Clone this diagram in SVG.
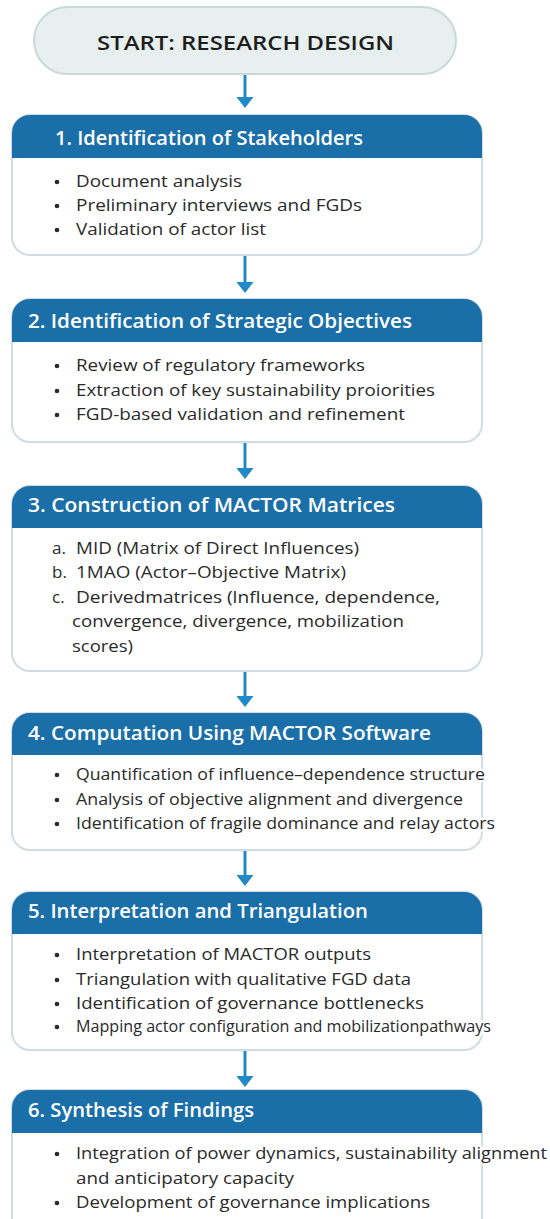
<svg xmlns="http://www.w3.org/2000/svg" width="550" height="1219" viewBox="0 0 550 1219">
<defs>
<style>
.box{fill:#ffffff;stroke:#cfdce4;stroke-width:2}
.hdr{fill:#1b6fa8}
.ttl{font-family:"Open Sans","Liberation Sans",sans-serif;font-size:20px;font-weight:600;fill:#ffffff}
.txt{font-family:"Open Sans","Liberation Sans",sans-serif;font-size:17px;fill:#2a2a2a}
.halo{stroke:#ffffff;stroke-width:5;paint-order:stroke;stroke-linejoin:round}
.bul{fill:#2a2a2a}
.arrow{stroke:#1f8ac7;stroke-width:3;fill:none}
.start{fill:#e7f0ee;stroke:#c9d9d6;stroke-width:2}
.stxt{font-family:"Open Sans","Liberation Sans",sans-serif;font-size:20px;font-weight:600;fill:#1e1e1e}
</style>
<marker id="ah" markerUnits="userSpaceOnUse" markerWidth="11" markerHeight="17" refX="2" refY="8.5" orient="auto">
<path d="M0,0 L11,8.5 L0,17 z" fill="#1f8ac7"/>
</marker>
</defs>
<rect width="550" height="1219" fill="#ffffff"/>

<g id="connectors">
<line class="arrow" x1="245" y1="75" x2="245" y2="99" marker-end="url(#ah)"/>
<line class="arrow" x1="245" y1="256" x2="245" y2="284" marker-end="url(#ah)"/>
<line class="arrow" x1="245" y1="443" x2="245" y2="470" marker-end="url(#ah)"/>
<line class="arrow" x1="245" y1="672" x2="245" y2="698" marker-end="url(#ah)"/>
<line class="arrow" x1="245" y1="851" x2="245" y2="877" marker-end="url(#ah)"/>
<line class="arrow" x1="245" y1="1051" x2="245" y2="1078" marker-end="url(#ah)"/>
</g>

<g id="start">
<rect class="start" x="34" y="7" width="422" height="67" rx="33.5"/>
<text class="stxt" x="97" y="50" textLength="297" lengthAdjust="spacingAndGlyphs">START: RESEARCH DESIGN</text>
</g>

<g id="step1">
<rect class="box" x="12" y="115" width="470" height="140" rx="18"/>
<path class="hdr" d="M12,133 a18,18 0 0 1 18,-18 h434 a18,18 0 0 1 18,18 v25 h-470 z"/>
<text class="ttl" x="55" y="145" textLength="308" lengthAdjust="spacingAndGlyphs">1. Identification of Stakeholders</text>
<circle class="bul" cx="57" cy="182" r="2.3"/>
<circle class="bul" cx="57" cy="206" r="2.3"/>
<circle class="bul" cx="57" cy="230" r="2.3"/>
<text class="txt" x="76" y="187" textLength="166" lengthAdjust="spacingAndGlyphs">Document analysis</text>
<text class="txt" x="76" y="211" textLength="286" lengthAdjust="spacingAndGlyphs">Preliminary interviews and FGDs</text>
<text class="txt" x="76" y="235" textLength="190" lengthAdjust="spacingAndGlyphs">Validation of actor list</text>
</g>

<g id="step2">
<rect class="box" x="12" y="299" width="470" height="143" rx="18"/>
<path class="hdr" d="M12,317 a18,18 0 0 1 18,-18 h434 a18,18 0 0 1 18,18 v25 h-470 z"/>
<text class="ttl" x="28" y="328" textLength="384" lengthAdjust="spacingAndGlyphs">2. Identification of Strategic Objectives</text>
<circle class="bul" cx="57" cy="366" r="2.3"/>
<circle class="bul" cx="57" cy="391" r="2.3"/>
<circle class="bul" cx="57" cy="415" r="2.3"/>
<text class="txt" x="76" y="371" textLength="289" lengthAdjust="spacingAndGlyphs">Review of regulatory frameworks</text>
<text class="txt" x="76" y="396" textLength="359" lengthAdjust="spacingAndGlyphs">Extraction of key sustainability proiorities</text>
<text class="txt" x="76" y="420" textLength="329" lengthAdjust="spacingAndGlyphs">FGD-based validation and refinement</text>
</g>

<g id="step3">
<rect class="box" x="12" y="486" width="470" height="185" rx="18"/>
<path class="hdr" d="M12,504 a18,18 0 0 1 18,-18 h434 a18,18 0 0 1 18,18 v24 h-470 z"/>
<text class="ttl" x="28" y="512" textLength="367" lengthAdjust="spacingAndGlyphs">3. Construction of MACTOR Matrices</text>
<text class="txt" x="52" y="554">a.</text>
<text class="txt" x="52" y="578">b.</text>
<text class="txt" x="52" y="603">c.</text>
<text class="txt" x="76" y="554" textLength="283" lengthAdjust="spacingAndGlyphs">MID (Matrix of Direct Influences)</text>
<text class="txt" x="76" y="578" textLength="270" lengthAdjust="spacingAndGlyphs">1MAO (Actor–Objective Matrix)</text>
<text class="txt" x="76" y="603" textLength="364" lengthAdjust="spacingAndGlyphs">Derivedmatrices (lnfluence, dependence,</text>
<text class="txt" x="72" y="627" textLength="332" lengthAdjust="spacingAndGlyphs">convergence, divergence, mobilization</text>
<text class="txt" x="72" y="652" textLength="61" lengthAdjust="spacingAndGlyphs">scores)</text>
</g>

<g id="step4">
<rect class="box" x="12" y="713" width="470" height="137" rx="18"/>
<path class="hdr" d="M12,731 a18,18 0 0 1 18,-18 h434 a18,18 0 0 1 18,18 v24 h-470 z"/>
<text class="ttl" x="28" y="740" textLength="403" lengthAdjust="spacingAndGlyphs">4. Computation Using MACTOR Software</text>
<circle class="bul" cx="57" cy="775" r="2.3"/>
<circle class="bul" cx="57" cy="800" r="2.3"/>
<circle class="bul" cx="57" cy="824" r="2.3"/>
<text class="txt halo" x="76" y="780" textLength="409" lengthAdjust="spacingAndGlyphs">Quantification of influence–dependence structure</text>
<text class="txt" x="76" y="805" textLength="387" lengthAdjust="spacingAndGlyphs">Analysis of objective alignment and divergence</text>
<text class="txt halo" x="76" y="829" textLength="419" lengthAdjust="spacingAndGlyphs">Identification of fragile dominance and relay actors</text>
</g>

<g id="step5">
<rect class="box" x="12" y="892" width="470" height="158" rx="18"/>
<path class="hdr" d="M12,910 a18,18 0 0 1 18,-18 h434 a18,18 0 0 1 18,18 v24 h-470 z"/>
<text class="ttl" x="28" y="918" textLength="340" lengthAdjust="spacingAndGlyphs">5. Interpretation and Triangulation</text>
<circle class="bul" cx="57" cy="955" r="2.3"/>
<circle class="bul" cx="57" cy="980" r="2.3"/>
<circle class="bul" cx="57" cy="1004" r="2.3"/>
<circle class="bul" cx="57" cy="1027" r="2.3"/>
<text class="txt" x="76" y="960" textLength="295" lengthAdjust="spacingAndGlyphs">Interpretation of MACTOR outputs</text>
<text class="txt" x="76" y="985" textLength="335" lengthAdjust="spacingAndGlyphs">Triangulation with qualitative FGD data</text>
<text class="txt" x="76" y="1009" textLength="348" lengthAdjust="spacingAndGlyphs">Identification of governance bottlenecks</text>
<text class="txt halo" x="76" y="1032" textLength="415" lengthAdjust="spacingAndGlyphs">Mapping actor configuration and mobilizationpathways</text>
</g>

<g id="step6">
<rect class="box" x="12" y="1090" width="470" height="160" rx="18"/>
<path class="hdr" d="M12,1108 a18,18 0 0 1 18,-18 h434 a18,18 0 0 1 18,18 v25 h-470 z"/>
<text class="ttl" x="28" y="1117" textLength="226" lengthAdjust="spacingAndGlyphs">6. Synthesis of Findings</text>
<circle class="bul" cx="57" cy="1154" r="2.3"/>
<circle class="bul" cx="57" cy="1203" r="2.3"/>
<text class="txt halo" x="76" y="1159" textLength="471" lengthAdjust="spacingAndGlyphs">Integration of power dynamics, sustainability alignment</text>
<text class="txt" x="76" y="1184" textLength="218" lengthAdjust="spacingAndGlyphs">and anticipatory capacity</text>
<text class="txt" x="76" y="1208" textLength="354" lengthAdjust="spacingAndGlyphs">Development of governance implications</text>
</g>
</svg>
